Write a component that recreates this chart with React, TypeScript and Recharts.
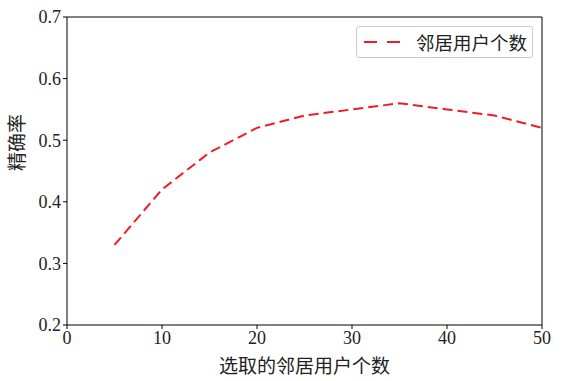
import React from 'react';
import {
  LineChart,
  Line,
  XAxis,
  YAxis,
  ReferenceLine,
} from 'recharts';

const neighborCounts = [5, 10, 15, 20, 25, 30, 35, 40, 45, 50];
const precision = [0.33, 0.42, 0.48, 0.52, 0.54, 0.55, 0.56, 0.55, 0.54, 0.52];
const xTicks = [0, 10, 20, 30, 40, 50];
const yTicks = [0.2, 0.3, 0.4, 0.5, 0.6, 0.7];
const seriesName = '邻居用户个数';

const data = neighborCounts.map((n, i) => ({ n, p: precision[i] }));

const FONT = "'Liberation Serif', 'Noto Sans CJK SC', serif";
const RED = '#ee1c25';

const LegendBox = () => (
  <div
    style={{
      position: 'absolute',
      left: 356,
      top: 26,
      border: '1px solid #cccccc',
      borderRadius: 3,
      background: '#fff',
      width: 177,
      height: 32,
      boxSizing: 'border-box',
      display: 'flex',
      alignItems: 'center',
      fontFamily: FONT,
      fontSize: 18.5,
      color: '#222',
    }}
  >
    <svg width={40} height={10} style={{ marginLeft: 7 }}>
      <line x1={0} y1={5} x2={38} y2={5} stroke={RED} strokeWidth={2} strokeDasharray="13 10" />
    </svg>
    <span style={{ marginLeft: 12 }}>{seriesName}</span>
  </div>
);

export default function App() {
  return (
    <div style={{ position: 'absolute', left: 0, top: 0, width: 566, height: 381, background: '#fff', fontFamily: FONT }}>
      <style>{`.recharts-text { font-family: ${FONT}; }`}</style>
      <LineChart
        width={566}
        height={381}
        data={data}
        margin={{ top: 17, right: 24, left: 17, bottom: 6 }}
      >
        <XAxis
          dataKey="n"
          type="number"
          domain={[0, 50]}
          ticks={xTicks}
          height={50}
          stroke="#000"
          tickSize={4}
          tick={{ fill: '#222', fontSize: 18 }}
          label={{ value: '选取的邻居用户个数', position: 'insideBottom', offset: 2, fill: '#222', fontSize: 19 }}
        />
        <YAxis
          type="number"
          domain={[0.2, 0.7]}
          ticks={yTicks}
          width={50}
          stroke="#000"
          tickSize={4}
          tickFormatter={(v: number) => v.toFixed(1)}
          tick={{ fill: '#222', fontSize: 18 }}
          label={{ value: '精确率', angle: -90, position: 'insideLeft', offset: 0, fill: '#222', fontSize: 19 }}
        />
        <ReferenceLine y={0.7} stroke="#000" />
        <ReferenceLine x={50} stroke="#000" />
        <Line
          type="linear"
          dataKey="p"
          name={seriesName}
          stroke={RED}
          strokeWidth={2}
          strokeDasharray="10 5"
          dot={false}
          activeDot={false}
          isAnimationActive={false}
        />
      </LineChart>
      <LegendBox />
    </div>
  );
}
